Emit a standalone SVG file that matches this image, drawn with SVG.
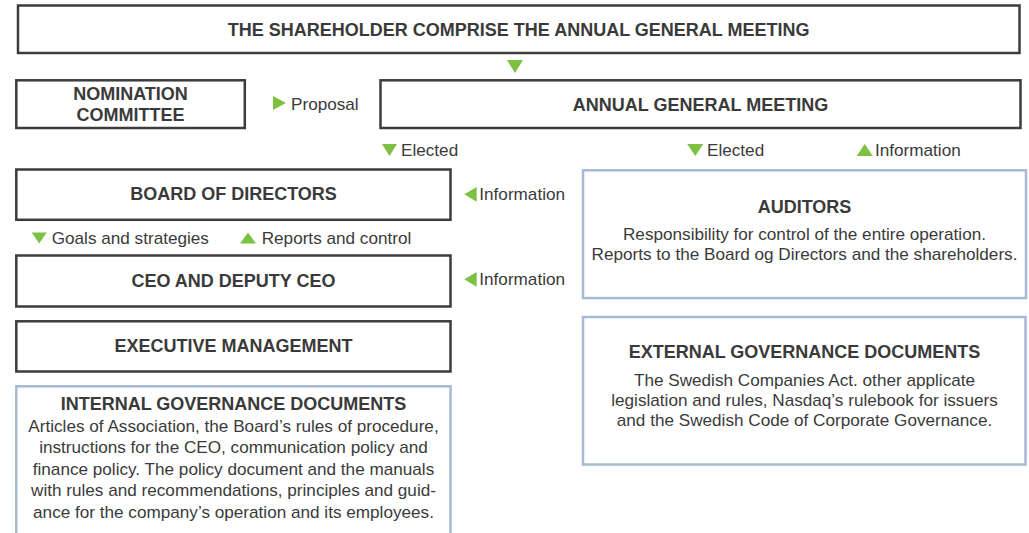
<svg xmlns="http://www.w3.org/2000/svg" width="1029" height="533" viewBox="0 0 1029 533">
<style>
.box{fill:#fff;stroke:#3c3c3c;stroke-width:2.5}
.doc{fill:#fff;stroke:#a6bbd1;stroke-width:2.5}
.h{font-family:"Liberation Sans",Arial,sans-serif;font-weight:bold;font-size:18px;fill:#3a3a3a;text-anchor:middle}
.t{font-family:"Liberation Sans",Arial,sans-serif;font-size:17.15px;fill:#3a3a3a;text-anchor:middle}
.l{font-family:"Liberation Sans",Arial,sans-serif;font-size:17.15px;fill:#3a3a3a}
.g{fill:#7cc142}
</style>
<rect width="1029" height="533" fill="#fff"/>
<g id="shareholders">
<rect class="box" x="18" y="5.5" width="1001.5" height="47.5"/>
<text class="h" x="518.7" y="35.5">THE SHAREHOLDER COMPRISE THE ANNUAL GENERAL MEETING</text>
</g>
<g id="nomination">
<rect class="box" x="16.3" y="80.3" width="228.5" height="47.7"/>
<text class="h" x="130.5" y="100">NOMINATION</text>
<text class="h" x="130.5" y="121">COMMITTEE</text>
</g>
<g id="agm">
<rect class="box" x="380.5" y="80.3" width="640" height="47.7"/>
<text class="h" x="700.5" y="110.5">ANNUAL GENERAL MEETING</text>
</g>
<g id="board">
<rect class="box" x="16.3" y="169.5" width="434.2" height="50.3"/>
<text class="h" x="233.5" y="200">BOARD OF DIRECTORS</text>
</g>
<g id="ceo">
<rect class="box" x="16.3" y="255.5" width="434.2" height="51"/>
<text class="h" x="233.5" y="286.7">CEO AND DEPUTY CEO</text>
</g>
<g id="executive">
<rect class="box" x="16.3" y="321.3" width="434.2" height="50.2"/>
<text class="h" x="233.5" y="351.7">EXECUTIVE MANAGEMENT</text>
</g>
<g id="internal">
<rect class="doc" x="16.3" y="386.3" width="434.2" height="160"/>
<text class="h" x="233.5" y="410">INTERNAL GOVERNANCE DOCUMENTS</text>
<text class="t" x="233.5" y="431.5">Articles of Association, the Board’s rules of procedure,</text>
<text class="t" x="233.5" y="453">instructions for the CEO, communication policy and</text>
<text class="t" x="233.5" y="474.5">finance policy. The policy document and the manuals</text>
<text class="t" x="233.5" y="496">with rules and recommendations, principles and guid-</text>
<text class="t" x="233.5" y="517.5">ance for the company’s operation and its employees.</text>
</g>
<g id="auditors">
<rect class="doc" x="583" y="170.3" width="443" height="127.8"/>
<text class="h" x="804.5" y="212.7">AUDITORS</text>
<text class="t" x="804.5" y="240">Responsibility for control of the entire operation.</text>
<text class="t" x="804.5" y="260">Reports to the Board og Directors and the shareholders.</text>
</g>
<g id="external">
<rect class="doc" x="583" y="317" width="442.5" height="147.5"/>
<text class="h" x="804.5" y="358.3">EXTERNAL GOVERNANCE DOCUMENTS</text>
<text class="t" x="804.5" y="385.5">The Swedish Companies Act. other applicate</text>
<text class="t" x="804.5" y="405.5">legislation and rules, Nasdaq’s rulebook for issuers</text>
<text class="t" x="804.5" y="425.5">and the Swedish Code of Corporate Governance.</text>
</g>
<g id="connectors">
<polygon class="g" points="507,60 523,60 515,73"/>
<polygon class="g" points="273,96 273,110 286,103"/>
<text class="l" x="291" y="110">Proposal</text>
<polygon class="g" points="382,144 397,144 389.5,156"/>
<text class="l" x="401" y="156">Elected</text>
<polygon class="g" points="687.3,144 703.3,144 695.3,156"/>
<text class="l" x="707" y="156">Elected</text>
<polygon class="g" points="856.7,156 872.7,156 864.7,144"/>
<text class="l" x="875" y="156">Information</text>
<polygon class="g" points="476.7,187 476.7,201.7 464.3,194.3"/>
<text class="l" x="479.3" y="200">Information</text>
<polygon class="g" points="476.7,272 476.7,286.7 464.3,279.3"/>
<text class="l" x="479.3" y="285">Information</text>
<polygon class="g" points="31.7,232.5 46.7,232.5 39.2,243.5"/>
<text class="l" x="51.7" y="244">Goals and strategies</text>
<polygon class="g" points="240,243.5 256,243.5 248,232.5"/>
<text class="l" x="261.7" y="244">Reports and control</text>
</g>
</svg>
